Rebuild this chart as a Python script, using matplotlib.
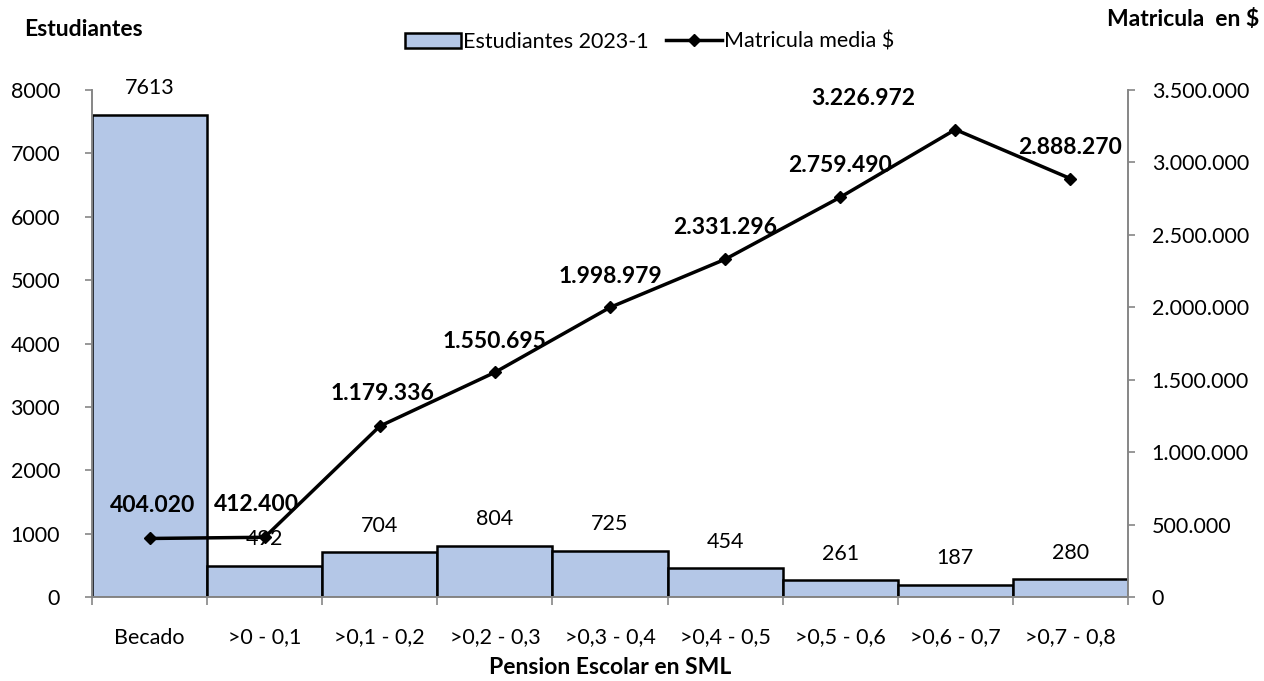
import matplotlib
matplotlib.use("Agg")
import matplotlib.pyplot as plt
from matplotlib.ticker import FuncFormatter, FixedLocator

categories = ["Becado", ">0 - 0,1", ">0,1 - 0,2", ">0,2 - 0,3", ">0,3 - 0,4",
              ">0,4 - 0,5", ">0,5 - 0,6", ">0,6 - 0,7", ">0,7 - 0,8"]
estudiantes = [7613, 492, 704, 804, 725, 454, 261, 187, 280]
matricula = [404020, 412400, 1179336, 1550695, 1998979, 2331296, 2759490, 3226972, 2888270]

plt.rcParams['font.family'] = ['Lato', 'DejaVu Sans']
FS = 15.5
FSB = 16.5
GRAY = '#868686'

fig = plt.figure(figsize=(12.64, 6.81), dpi=100)
ax = fig.add_axes([92/1264, 1-597/681, (1128-92)/1264, (597-90)/681])
ax2 = ax.twinx()

x = list(range(len(categories)))
bars = ax.bar(x, estudiantes, width=1.0, color='#B4C7E7', edgecolor='black', linewidth=1.8,
              label='Estudiantes 2023-1', zorder=2)
ax.set_xlim(-0.5, len(categories) - 0.5)
ax.set_ylim(0, 8000)
ax.set_yticks(range(0, 8001, 1000))
ax.set_xticks(x)
ax.set_xticklabels(categories, fontsize=FS)
ax.xaxis.set_minor_locator(FixedLocator([i - 0.5 for i in range(len(categories) + 1)]))
ax.tick_params(axis='x', which='major', length=0, pad=22)
ax.tick_params(axis='x', which='minor', length=6, color=GRAY, width=1.2)
ax.tick_params(axis='y', length=5, color=GRAY, width=1.2, labelsize=FS, pad=18)
for s in ['top']:
    ax.spines[s].set_visible(False)
    ax2.spines[s].set_visible(False)
for s in ['left', 'bottom', 'right']:
    ax.spines[s].set_color(GRAY)
    ax.spines[s].set_linewidth(1.2)
    ax2.spines[s].set_color(GRAY)
    ax2.spines[s].set_linewidth(1.2)

for xi, v in zip(x, estudiantes):
    ax.annotate(str(v), (xi, v), xytext=(0, 12), textcoords='offset points',
                ha='center', va='bottom', fontsize=FS)

line, = ax2.plot(x, matricula, color='black', linewidth=2.5, marker='D', markersize=6,
                 label='Matricula media $', zorder=3)
ax2.set_ylim(0, 3500000)
ax2.set_yticks(range(0, 3500001, 500000))
ax2.yaxis.set_major_formatter(FuncFormatter(lambda v, p: f"{int(v):,}".replace(",", ".")))
ax2.tick_params(axis='y', length=5, color=GRAY, width=1.2, labelsize=FS, pad=12)

offsets = [(2, 16), (-6, 16), (2, 16), (0, 15), (0, 15), (0, 15), (0, 15), (-66, 15), (0, 15)]
for xi, v, off in zip(x, matricula, offsets):
    ax2.annotate(f"{v:,}".replace(",", "."), (xi, v), xytext=off, textcoords='offset points',
                 ha='center', va='bottom', fontsize=FSB, fontweight='bold')

ax2.set_zorder(ax.get_zorder() + 1)
ax.patch.set_visible(True)
ax2.patch.set_visible(False)

fig.text(83/1264, 1-30/681, "Estudiantes", ha='center', va='center', fontsize=FSB, fontweight='bold')
fig.text(1183/1264, 1-20/681, "Matricula  en $", ha='center', va='center', fontsize=FSB, fontweight='bold')
fig.text(610/1264, 1-668/681, "Pension Escolar en SML", ha='center', va='center', fontsize=FSB, fontweight='bold')

leg = fig.legend([bars, line], ['Estudiantes 2023-1', 'Matricula media $'], loc='center',
                 bbox_to_anchor=(650/1264, 1-42/681), ncol=2, frameon=False, fontsize=FS,
                 handlelength=2.6, handletextpad=0.1, columnspacing=0.8, handleheight=0.7)

fig.savefig("out.png", dpi=100)
